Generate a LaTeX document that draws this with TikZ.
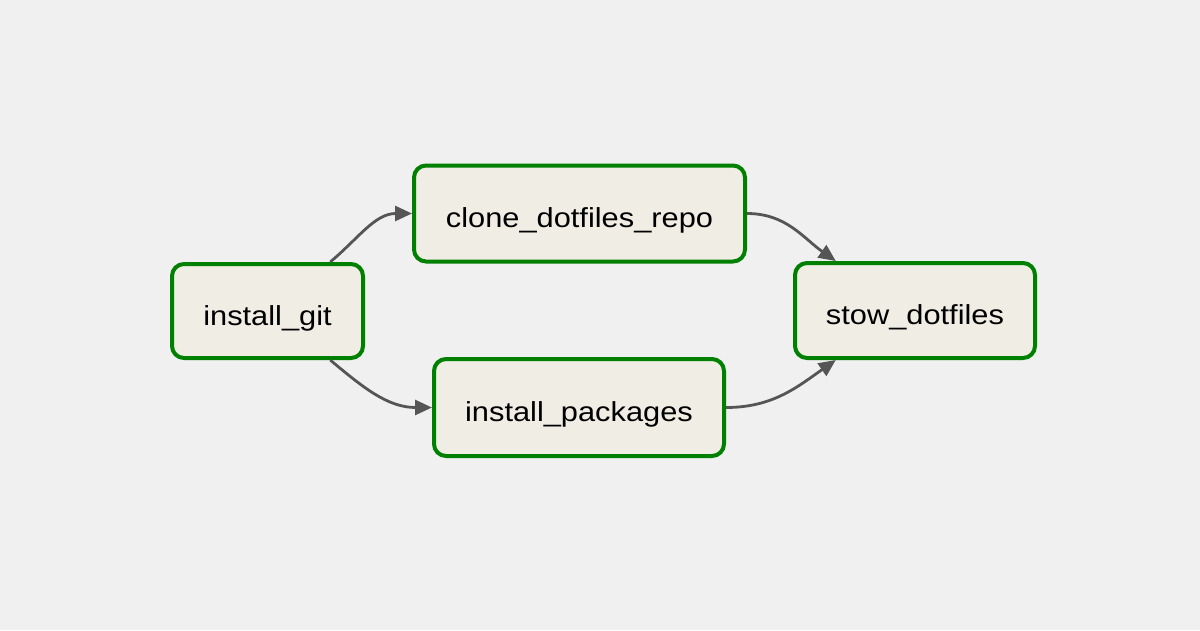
\documentclass[tikz,border=0pt]{standalone}
\usepackage{fontspec}
\newfontfamily\taskfont{Liberation Sans}[FakeStretch=1.12]
\usepackage{tikz}
\usetikzlibrary{arrows.meta,positioning}
\usepackage{xcolor}
\definecolor{dagbg}{RGB}{240,240,240}
\definecolor{taskgreen}{RGB}{0,128,0}
\definecolor{taskfill}{RGB}{240,237,228}
\definecolor{edgegrey}{RGB}{85,85,85}

\begin{document}
\begin{tikzpicture}[x=1pt, y=-1pt,
    task/.style={rectangle, draw=taskgreen, fill=taskfill, line width=4pt, rounded corners=12pt,
                 inner sep=0pt, text depth=0pt, text height=28pt,
                 font=\taskfont\fontsize{27.5}{33}\selectfont},
    arr/.style={-{Triangle[length=17pt,width=15pt]}, line width=2.8pt, edgegrey}
]
\fill[dagbg] (0,0) rectangle (1200,630);
\useasboundingbox (0,0) rectangle (1200,630);

\node[task, minimum width=191pt, minimum height=94pt] (git)      at (267.5,311)   {install\_git};
\node[task, minimum width=331pt, minimum height=96pt] (clone)    at (579.5,213.5) {clone\_dotfiles\_repo};
\node[task, minimum width=290pt, minimum height=97pt] (packages) at (579,407.5)   {install\_packages};
\node[task, minimum width=240pt, minimum height=95pt] (stow)     at (915,310.5)   {stow\_dotfiles};

\draw[arr] (git.38)        to[out=40, in=180]  (clone.west);
\draw[arr] (git.322)       to[out=-40, in=180] (packages.west);
\draw[arr] (clone.east)    to[out=0, in=145]   (stow.148);
\draw[arr] (packages.east) to[out=0, in=215]   (stow.212);
\end{tikzpicture}
\end{document}
